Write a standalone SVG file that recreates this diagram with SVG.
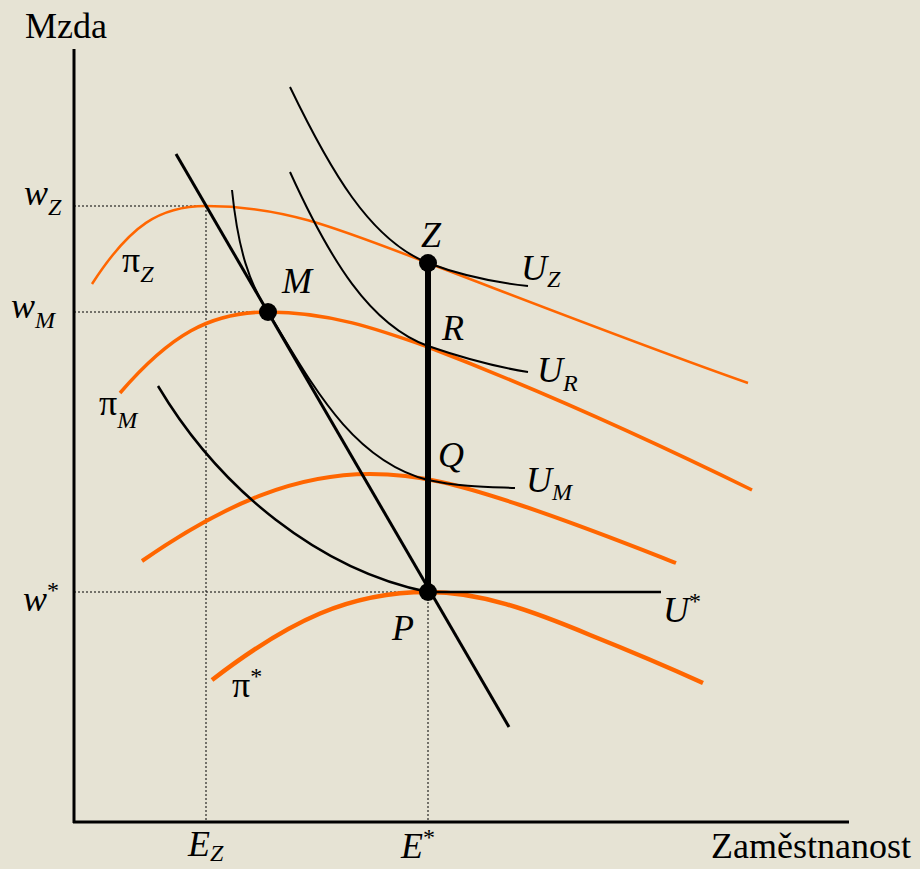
<svg xmlns="http://www.w3.org/2000/svg" width="920" height="869" viewBox="0 0 920 869">
<style>
text{font-size:36px;fill:#000}
.i{font-style:italic}
.s{font-size:24px}
.o{fill:none;stroke:#FF6600;stroke-linecap:butt}
.b{fill:none;stroke:#000}
.d{fill:none;stroke:#000;stroke-width:1;stroke-dasharray:2,2}
</style>
<rect width="920" height="869" fill="#E6E3D4"/>
<g id="axes">
<line x1="74" y1="49" x2="74" y2="823" stroke="#000" stroke-width="3"/>
<line x1="73" y1="822" x2="849" y2="822" stroke="#000" stroke-width="3"/>
</g>
<g id="guides">
<path class="d" d="M74,206H206V822M74,312H268M74,592H428V822"/>
</g>
<g id="profit-curves">
<path id="piZ" class="o" stroke-width="2.5" d="M92,284 C130,225 160,206 206,206 C280,206 330,225 428,263 C520,298 640,345 748,383"/>
<path id="piM" class="o" stroke-width="3.5" d="M120,393 C170,335 210,312 268,312 C330,312 380,330 428,347 C540,390 650,440 752,490"/>
<path id="piMid" class="o" stroke-width="4" d="M142,561 C230,500 300,474 370,474 C420,474 460,485 520,505 C580,525 630,545 676,563"/>
<path id="piStar" class="o" stroke-width="4.5" d="M212,680 C290,620 350,592 428,592 C480,592 530,610 590,635 C640,655 670,668 703,683"/>
</g>
<g id="connectors">
<path id="line" class="b" stroke-width="3" d="M176,154 L509,727"/>
<path id="UZ" class="b" stroke-width="2" d="M290,87 C330,170 370,240 428,263 C460,275 490,282 528,286"/>
<path id="UR" class="b" stroke-width="2" d="M290,172 C330,260 370,325 428,346 C460,357 490,366 528,372"/>
<path id="UM" class="b" stroke-width="2" d="M232,190 C238,250 250,285 268,312 C310,380 350,460 428,480 C460,487 490,487 515,488"/>
<path id="Ustar" class="b" stroke-width="2.5" d="M158,386 C220,490 320,570 428,592 L661,592"/>
<line id="ZP" x1="428" y1="263" x2="428" y2="592" stroke="#000" stroke-width="6"/>
</g>
<g id="Z"><circle cx="428" cy="263" r="9"/></g>
<g id="M"><circle cx="268" cy="312" r="9"/></g>
<g id="P"><circle cx="428" cy="592" r="9"/></g>
<g id="labels" font-family="Liberation Serif, Times New Roman, DejaVu Serif, serif">
<text x="25" y="38">Mzda</text>
<text class="i" x="24" y="205">w<tspan class="s" dy="10">Z</tspan></text>
<text class="i" x="11" y="318">w<tspan class="s" dy="10">M</tspan></text>
<text class="i" x="23" y="611">w<tspan class="s" dy="-13" font-style="normal">*</tspan></text>
<text class="i" x="188" y="856">E<tspan class="s" dy="5">Z</tspan></text>
<text class="i" x="401" y="858">E<tspan class="s" dy="-13" font-style="normal">*</tspan></text>
<text x="711" y="858">Zaměstnanost</text>
<text x="122" y="272">π<tspan class="s i" dy="10">Z</tspan></text>
<text x="99" y="415">π<tspan class="s i" dy="13">M</tspan></text>
<text x="232" y="697">π<tspan class="s" dy="-13">*</tspan></text>
<text class="i" x="421" y="247">Z</text>
<text class="i" x="282" y="293">M</text>
<text class="i" x="442" y="340">R</text>
<text class="i" x="438" y="467">Q</text>
<text class="i" x="392" y="640">P</text>
<text class="i" x="521" y="280">U<tspan class="s" dy="7">Z</tspan></text>
<text class="i" x="537" y="382">U<tspan class="s" dy="9">R</tspan></text>
<text class="i" x="526" y="492">U<tspan class="s" dy="8">M</tspan></text>
<text class="i" x="663" y="622">U<tspan class="s" dy="-13" font-style="normal">*</tspan></text>
</g>
</svg>
